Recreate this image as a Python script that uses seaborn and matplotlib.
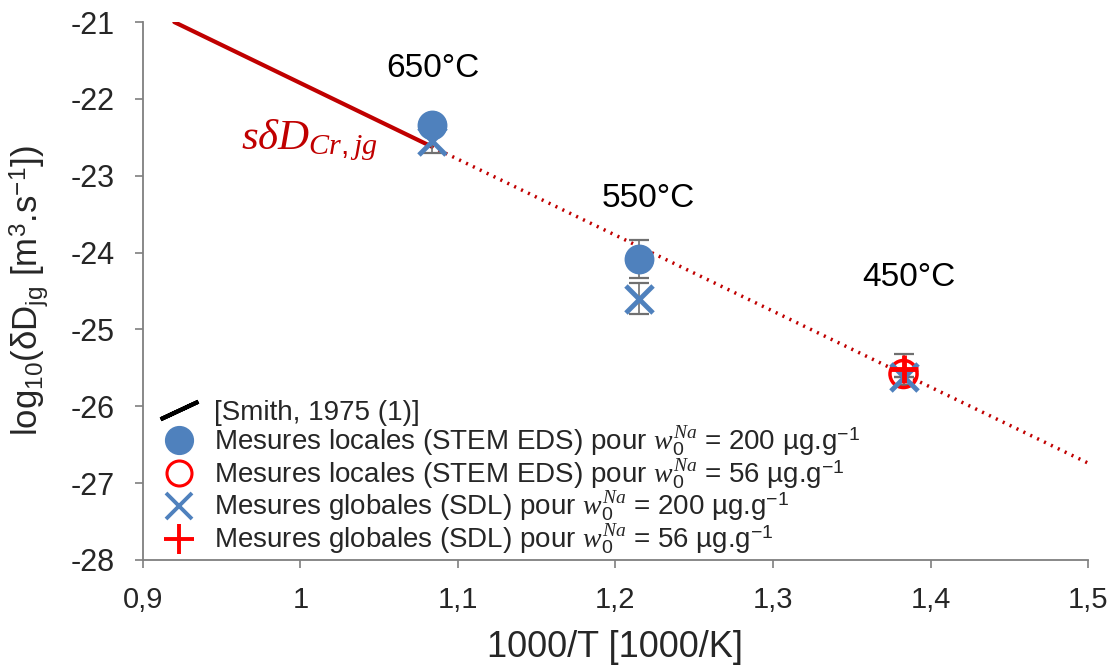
import matplotlib
matplotlib.use("Agg")
import matplotlib.pyplot as plt
import seaborn as sns
import numpy as np
import pandas as pd
from matplotlib.lines import Line2D

# ---------------- data ----------------
temps_label = ["650°C", "550°C", "450°C"]
inv_T = [1.0833, 1.2149, 1.3828]           # 1000/T [1000/K]

local_200_x = [1.0833, 1.2149]
local_200_y = [-22.34, -24.08]
local_200_err = [0.0, 0.25]

local_56_x = [1.3828]
local_56_y = [-25.58]

global_200_x = [1.0833, 1.2149, 1.3828]
global_200_y = [-22.55, -24.60, -25.62]
global_200_err = [0.15, 0.20, 0.0]

global_56_x = [1.3828]
global_56_y = [-25.52]
global_56_err = [0.20]

smith_x = [0.92, 1.0833]
smith_y = [-21.0, -22.62]
extrap_x = [1.0833, 1.5]
extrap_y = [-22.62, -26.74]

temp_label_x = [1.084, 1.2206, 1.386]
temp_label_y = [-21.6, -23.3, -24.33]

x_ticks = [0.9, 1.0, 1.1, 1.2, 1.3, 1.4, 1.5]
x_ticklabels = ["0,9", "1", "1,1", "1,2", "1,3", "1,4", "1,5"]
y_ticks = [-28, -27, -26, -25, -24, -23, -22, -21]

legend_labels = [
    "[Smith, 1975 (1)]",
    r"Mesures locales (STEM EDS) pour $w_0^{Na}$ = 200 µg.g$^{-1}$",
    r"Mesures locales (STEM EDS) pour $w_0^{Na}$ = 56 µg.g$^{-1}$",
    r"Mesures globales (SDL) pour $w_0^{Na}$ = 200 µg.g$^{-1}$",
    r"Mesures globales (SDL) pour $w_0^{Na}$ = 56 µg.g$^{-1}$",
]

# ---------------- style ----------------
sns.set_theme(style="white")
plt.rcParams["font.family"] = ["Liberation Sans", "DejaVu Sans"]
plt.rcParams["mathtext.fontset"] = "custom"
plt.rcParams["mathtext.rm"] = "Liberation Sans"
plt.rcParams["mathtext.it"] = "Liberation Serif:italic"
plt.rcParams["mathtext.bf"] = "Liberation Sans:bold"
plt.rcParams["axes.unicode_minus"] = False

BLUE = "#4F81BD"
RED = "#FF0000"
DARKRED = "#C00000"
AXCOL = "#7F7F7F"
ERRCOL = "#707070"

fig = plt.figure(figsize=(11.07, 6.69), dpi=100)
ax = fig.add_axes([0.129, 0.163, 0.854, 0.804])

# lines
sns.lineplot(x=smith_x, y=smith_y, ax=ax, color=DARKRED, linewidth=3, zorder=2)
sns.lineplot(x=extrap_x, y=extrap_y, ax=ax, color=DARKRED, linewidth=2.5,
             linestyle=(0, (0.6, 1.6)), zorder=2)

# error bars
for ex, ey, ee in [(local_200_x, local_200_y, local_200_err),
                   (global_200_x, global_200_y, global_200_err),
                   (global_56_x, global_56_y, global_56_err)]:
    ax.errorbar(ex, ey, yerr=ee, fmt="none", ecolor=ERRCOL, elinewidth=1.2,
                capsize=7, capthick=1.6, zorder=3)

# markers
sns.scatterplot(x=local_200_x, y=local_200_y, ax=ax, marker="o", s=420,
                color=BLUE, edgecolor=BLUE, linewidth=1, zorder=4)
sns.scatterplot(x=local_56_x, y=local_56_y, ax=ax, marker="o", s=380,
                facecolor="none", edgecolor=RED, linewidth=2.5, zorder=4)
sns.scatterplot(x=global_200_x, y=global_200_y, ax=ax, marker="x", s=380,
                color=BLUE, linewidth=3.5, zorder=5)
sns.scatterplot(x=global_56_x, y=global_56_y, ax=ax, marker="+", s=420,
                color=RED, linewidth=3.5, zorder=6)

# temperature labels
for lx, ly, t in zip(temp_label_x, temp_label_y, temps_label):
    ax.text(lx, ly, t, fontsize=24, ha="center", va="center", color="black")

# annotation
ax.text(1.006, -22.54, r"$s\delta D_{Cr,jg}$", fontsize=31, color=DARKRED,
        ha="center", va="center")

# axes
ax.set_xlim(0.9, 1.5)
ax.set_ylim(-28, -21)
ax.set_xticks(x_ticks)
ax.set_xticklabels(x_ticklabels)
ax.set_yticks(y_ticks)
ax.set_yticklabels([str(v) for v in y_ticks])
ax.tick_params(axis="both", direction="out", length=6,
               width=1.2, color=AXCOL, left=True, bottom=True)
ax.tick_params(axis="y", pad=14, labelsize=22)
ax.tick_params(axis="x", pad=13, labelsize=21)
for side in ["top", "right"]:
    ax.spines[side].set_visible(False)
for side in ["left", "bottom"]:
    ax.spines[side].set_color(AXCOL)
    ax.spines[side].set_linewidth(1.3)
ax.set_xlabel("1000/T [1000/K]", fontsize=26, labelpad=11)
ax.set_ylabel(r"log$_{10}$(δD$_{\mathrm{jg}}$ [m$^{3}$.s$^{-1}$])", fontsize=25)
ax.yaxis.set_label_coords(-0.097, 0.5)
ax.grid(False)

# legend
handles = [
    Line2D([], [], linestyle="None", marker=(2, 2, -65), markersize=30,
           markeredgewidth=3, color="black"),
    Line2D([], [], linestyle="None", marker="o", markersize=20,
           color=BLUE, markeredgecolor=BLUE),
    Line2D([], [], linestyle="None", marker="o", markersize=18,
           markerfacecolor="none", markeredgecolor=RED, markeredgewidth=2.2),
    Line2D([], [], linestyle="None", marker="x", markersize=19,
           markeredgewidth=2.8, color=BLUE),
    Line2D([], [], linestyle="None", marker="+", markersize=22,
           markeredgewidth=2.8, color=RED),
]
ax.legend(handles, legend_labels, loc="lower left", bbox_to_anchor=(0.0, -0.018),
          frameon=False, fontsize=20, handlelength=1.7, handletextpad=0.4,
          labelspacing=-0.05, borderaxespad=0.45, borderpad=0.0)

fig.savefig("out.png", dpi=100)
